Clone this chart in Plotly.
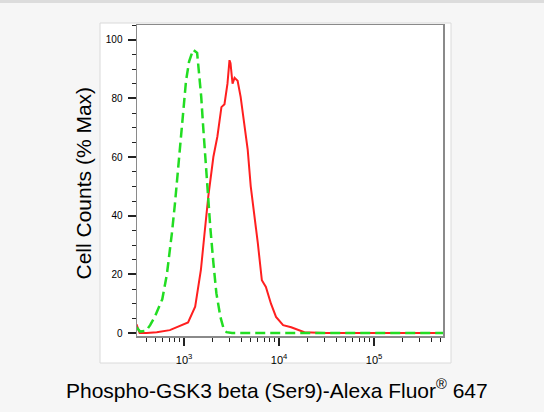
import plotly.graph_objects as go

# Control (green dashed) histogram
green_x = [316, 345, 400, 440, 491, 590, 660, 710, 745, 802, 863, 929, 976, 1050, 1130,
           1247, 1374, 1409, 1517, 1593, 1672, 1757, 1891, 2036, 2190, 2415, 2600, 2800,
           3200, 10000, 50000, 200000, 560000]
green_y = [2.0, 0.5, 0.8, 2.7, 5.5, 11.5, 20, 28, 34, 44, 56, 66, 77, 86, 92.5,
           96.6, 95.5, 92, 80.5, 70, 60, 49, 36, 24, 13.6, 5.5, 1.7, 0.3,
           0, 0, 0, 0, 0]

# Sample (red solid) histogram
red_x = [316, 341, 404, 516, 709, 907, 1103, 1310, 1505, 1633, 1799, 2036, 2245, 2475,
         2666, 2866, 3011, 3085, 3241, 3404, 3664, 3944, 4245, 4680, 5038, 5423, 5978,
         6596, 7273, 8226, 9300, 11040, 13430, 18470, 30100, 100000, 560000]
red_y = [3.0, 0, 0, 0.3, 1.0, 2.4, 3.6, 9, 21.5, 33, 46.4, 60, 67, 77,
         78, 85, 93, 92, 85, 87, 86, 80.5, 72.7, 62.5, 50, 42, 30.7,
         18, 15.7, 10, 5.5, 2.7, 2.0, 0.3, 0, 0, 0]

x_major = [1000, 10000, 100000]
x_major_text = ["10<sup>3</sup>", "10<sup>4</sup>", "10<sup>5</sup>"]
x_minor = [m * 10 ** k for k in range(2, 6) for m in range(2, 10)
           if 316 <= m * 10 ** k <= 530000]
y_major = [0, 20, 40, 60, 80, 100]

x_title = "Phospho-GSK3 beta (Ser9)-Alexa Fluor<sup>®</sup> 647"
y_title = "Cell Counts (% Max)"

FONT = "Liberation Sans, Arial, Helvetica, sans-serif"

fig = go.Figure()
fig.add_trace(go.Scatter(x=red_x, y=red_y, mode="lines",
                         line=dict(color="#ff1f1f", width=2), showlegend=False))
fig.add_trace(go.Scatter(x=green_x, y=green_y, mode="lines",
                         line=dict(color="#22dd22", width=2.5, dash="10px,5px"),
                         showlegend=False))

W, H = 544, 412
L, R, T, B = 137, 443, 25, 336
pw, ph = R - L, B - T

def px(x):
    return (x - L) / pw

def py(y):
    return (B - y) / ph

fig.update_layout(
    width=W, height=H,
    margin=dict(l=L, r=W - R, t=T, b=H - B),
    paper_bgcolor="#f6f6f6",
    plot_bgcolor="white",
    font=dict(family=FONT, color="black", size=10),
    xaxis=dict(
        type="log", range=[2.505, 5.726],
        tickmode="array", tickvals=x_major, ticktext=x_major_text,
        ticks="outside", ticklen=8, tickwidth=2, tickcolor="#222",
        ticklabelstandoff=5,
        minor=dict(tickmode="array", tickvals=x_minor, ticks="outside",
                   ticklen=4, tickwidth=1, tickcolor="#222", showgrid=False),
        showgrid=False, zeroline=False,
        showline=True, linecolor="#8a8a8a", linewidth=1.5, mirror=True,
        tickfont=dict(size=11, family=FONT),
    ),
    yaxis=dict(
        range=[-1, 105],
        tickmode="array", tickvals=y_major,
        ticks="outside", ticklen=8, tickwidth=2, tickcolor="#222",
        ticklabelstandoff=3,
        minor=dict(dtick=5, ticks="outside", ticklen=4, tickwidth=1,
                   tickcolor="#222", showgrid=False),
        showgrid=False, zeroline=False,
        showline=True, linecolor="#8a8a8a", linewidth=1.5, mirror=True,
        tickfont=dict(size=10, family=FONT),
    ),
    shapes=[
        dict(type="rect", xref="paper", yref="paper",
             x0=px(100), x1=px(451), y0=py(363), y1=py(23),
             fillcolor="white", line=dict(color="#dadada", width=1), layer="below"),
        dict(type="line", xref="paper", yref="paper",
             x0=px(0), x1=px(W), y0=py(1.5), y1=py(1.5),
             line=dict(color="#dcdcdc", width=3)),
    ],
    annotations=[
        dict(text=y_title, xref="paper", yref="paper", x=px(83), y=py(183.5),
             textangle=-90, showarrow=False, xanchor="center", yanchor="middle",
             font=dict(size=21, family=FONT, color="black")),
        dict(text=x_title, xref="paper", yref="paper", x=px(276.5), y=py(389),
             showarrow=False, xanchor="center", yanchor="middle",
             font=dict(size=21, family=FONT, color="black")),
    ],
)

fig.write_html(
    "out.html",
    config={"displayModeBar": False, "staticPlot": True},
    post_script="document.body.style.margin='0';document.body.style.overflow='hidden';",
)
